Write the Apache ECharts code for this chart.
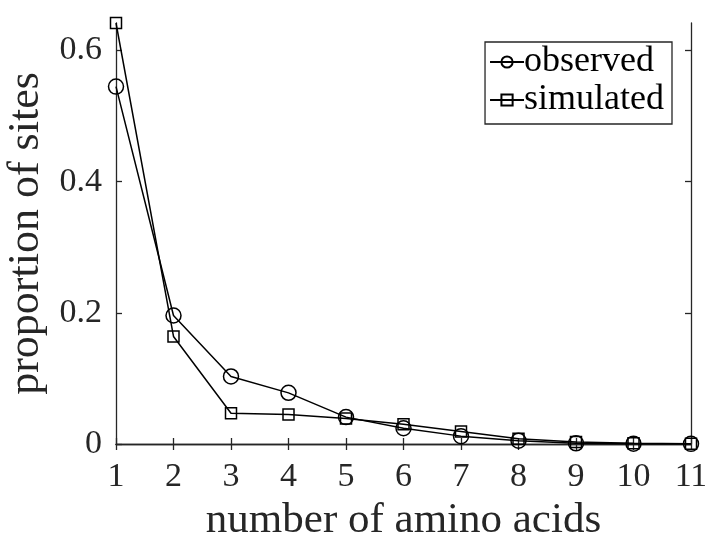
<!DOCTYPE html>
<html>
<head>
<meta charset="utf-8">
<title>number of amino acids per site</title>
<script src="https://cdn.jsdelivr.net/npm/echarts@6/dist/echarts.min.js"></script>
<style>
  html, body { margin: 0; padding: 0; background: #ffffff; }
  #chart { width: 705px; height: 538px; }
</style>
</head>
<body>
<div id="chart"></div>
<script>
// number of amino acids observed at a site
const aminoCounts = [1, 2, 3, 4, 5, 6, 7, 8, 9, 10, 11];
// proportion of sites, observed
const observed = [0.545, 0.196, 0.103, 0.078, 0.041, 0.024, 0.012, 0.005, 0.001, 0.0005, 0.0002];
// proportion of sites, simulated
const simulated = [0.642, 0.164, 0.047, 0.045, 0.039, 0.030, 0.019, 0.008, 0.003, 0.001, 0.0003];
// y tick values
const yTicks = [0, 0.2, 0.4, 0.6];

const FONT = 'Liberation Serif';
const AXIS_COLOR = '#262626';

const pairs = (ys) => aminoCounts.map((x, i) => [x, ys[i]]);

const axisLine = { show: true, lineStyle: { color: AXIS_COLOR, width: 1.3 } };
const axisTick = { show: true, inside: true, length: 6, lineStyle: { color: AXIS_COLOR, width: 1.3 } };

const chart = echarts.init(document.getElementById('chart'), null, { renderer: 'canvas' });

chart.setOption({
  backgroundColor: '#ffffff',
  animation: false,
  grid: { left: 116, right: 14, top: 23, bottom: 94, containLabel: false, outerBoundsMode: 'none' },
  legend: {
    orient: 'vertical',
    right: 33,
    top: 42,
    padding: [2, 8, 6, 4],
    itemGap: 2,
    itemWidth: 34,
    itemHeight: 14,
    borderColor: '#262626',
    borderWidth: 1.3,
    backgroundColor: '#ffffff',
    textStyle: { fontFamily: FONT, fontSize: 36, lineHeight: 36, color: '#000', padding: [0, 0, 0, -5] },
    data: ['observed', 'simulated']
  },
  xAxis: [
    {
      type: 'value', min: 1, max: 11, interval: 1, position: 'bottom',
      axisLine, axisTick, splitLine: { show: false },
      axisLabel: { fontFamily: FONT, fontSize: 34, color: AXIS_COLOR, margin: 16 },
      name: 'number of amino acids', nameLocation: 'middle', nameGap: 47,
      nameTextStyle: { fontFamily: FONT, fontSize: 43, color: AXIS_COLOR }
    },
    {
      type: 'value', min: 1, max: 11, interval: 1, position: 'top',
      axisLine, axisTick, splitLine: { show: false }, axisLabel: { show: false }
    }
  ],
  yAxis: [
    {
      type: 'value', min: 0, max: 0.642, position: 'left',
      axisLine, splitLine: { show: false },
      axisTick: Object.assign({}, axisTick, { customValues: yTicks }),
      axisLabel: {
        customValues: yTicks,
        fontFamily: FONT, fontSize: 34, color: AXIS_COLOR, margin: 14,
        formatter: (v) => (v === 0 ? '0' : v.toFixed(1))
      },
      name: 'proportion of sites', nameLocation: 'middle', nameGap: 66, nameRotate: 90,
      nameTextStyle: { fontFamily: FONT, fontSize: 44, color: AXIS_COLOR }
    },
    {
      type: 'value', min: 0, max: 0.642, position: 'right',
      axisLine, splitLine: { show: false },
      axisTick: Object.assign({}, axisTick, { customValues: yTicks }),
      axisLabel: { show: false }
    }
  ],
  series: [
    {
      name: 'observed', type: 'line', xAxisIndex: 0, yAxisIndex: 0,
      data: pairs(observed), clip: false,
      symbol: 'circle', symbolSize: 15,
      lineStyle: { color: '#000', width: 1.5 },
      itemStyle: { color: 'rgba(255,255,255,0)', borderColor: '#000', borderWidth: 1.5 }
    },
    {
      name: 'simulated', type: 'line', xAxisIndex: 0, yAxisIndex: 0,
      data: pairs(simulated), clip: false,
      symbol: 'rect', symbolSize: 11,
      lineStyle: { color: '#000', width: 1.5 },
      itemStyle: { color: 'rgba(255,255,255,0)', borderColor: '#000', borderWidth: 1.5 }
    }
  ]
});
</script>
</body>
</html>
